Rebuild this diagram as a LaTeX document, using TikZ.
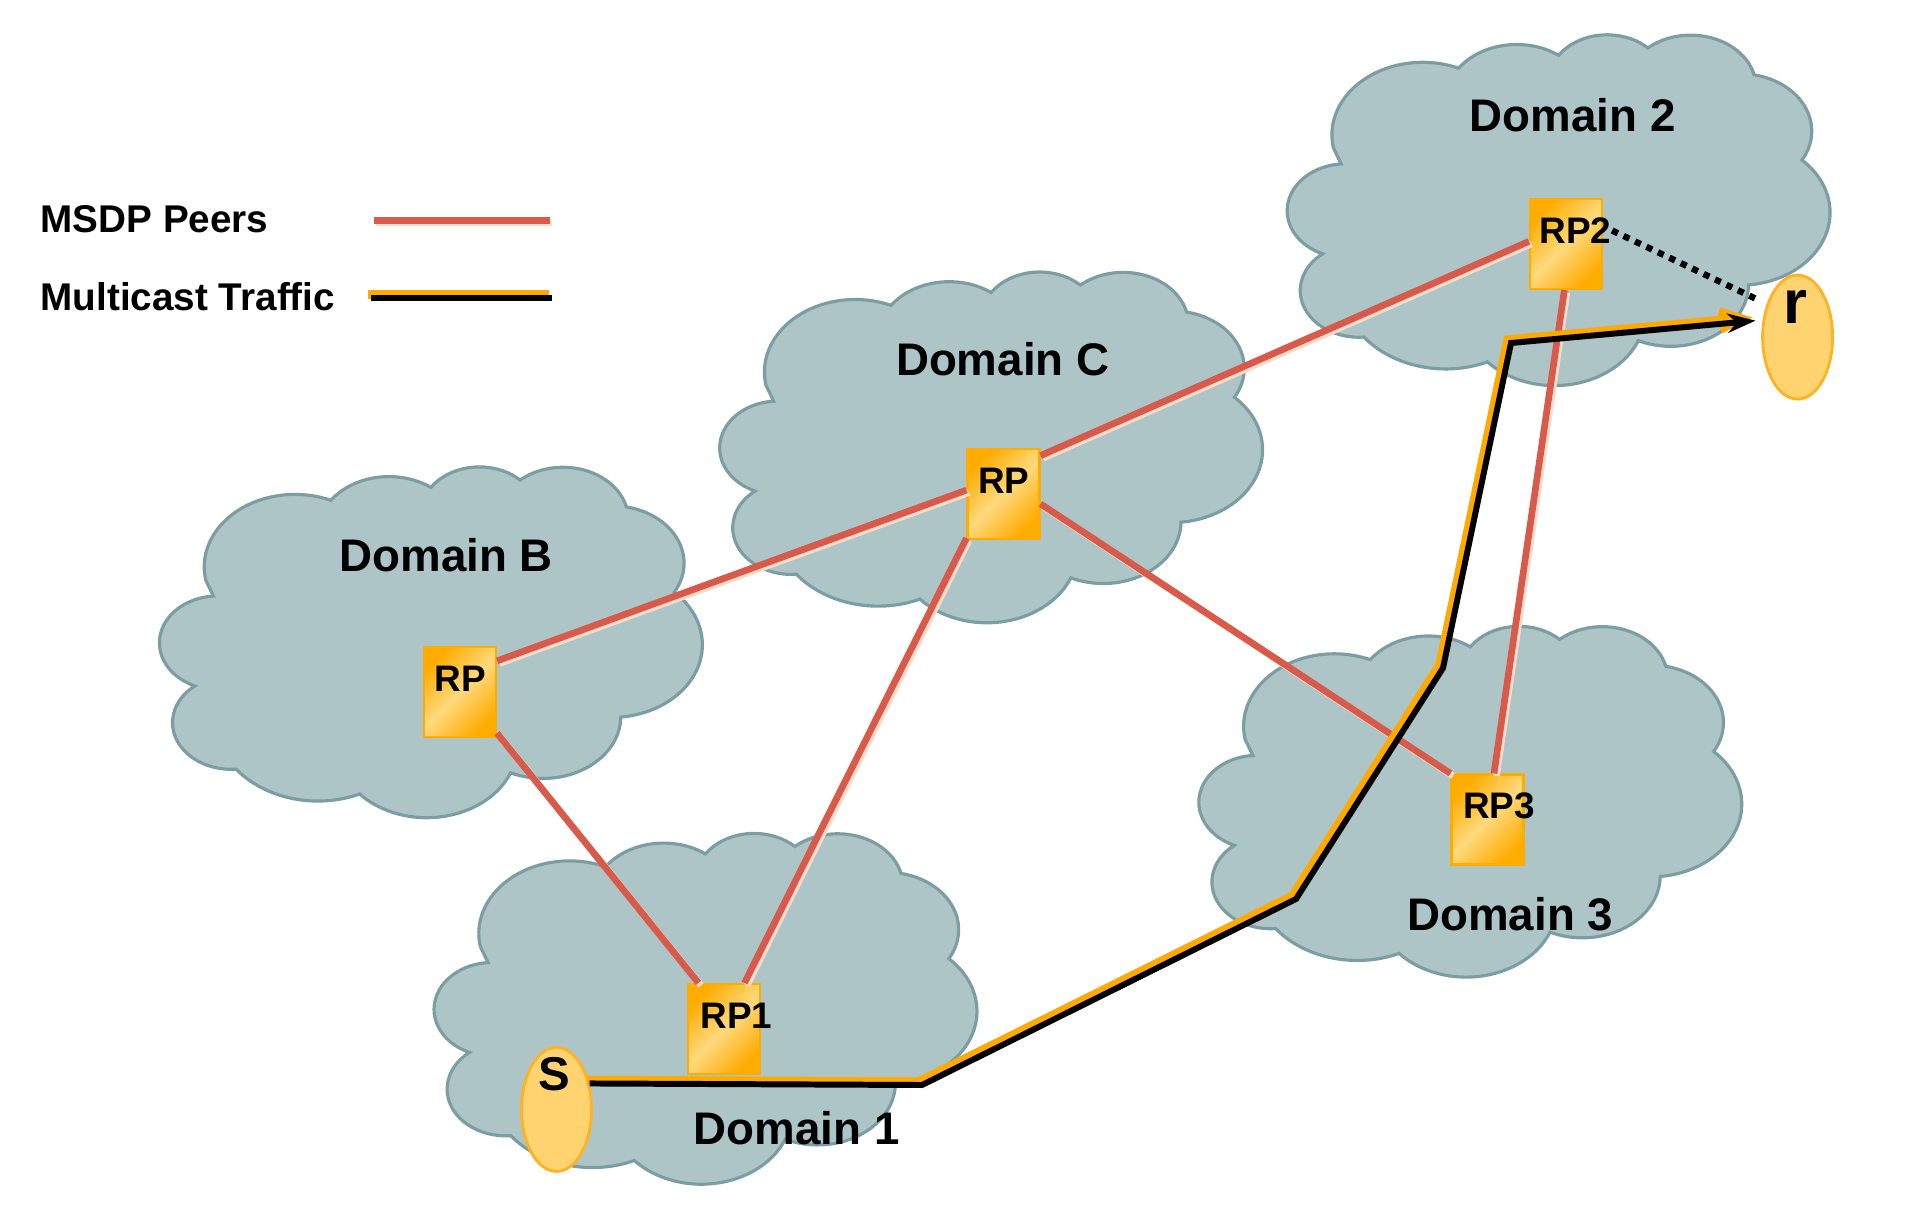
\documentclass[tikz,border=0pt]{standalone}
\usepackage{fontspec}
\setmainfont{Liberation Sans}
\usetikzlibrary{arrows.meta, shapes.geometric, positioning}
\definecolor{cloudfill}{HTML}{AEC5C7}
\definecolor{cloudedge}{HTML}{7C9DA2}
\definecolor{peerred}{HTML}{D75A4A}
\definecolor{peerglow}{HTML}{F7DCCB}
\definecolor{boxorange}{HTML}{FFAC00}
\definecolor{boxlight}{HTML}{FFD97C}
\definecolor{hostfill}{HTML}{FFD470}
\definecolor{hostedge}{HTML}{FFB224}
\definecolor{trafficorange}{HTML}{FFAA00}
\tikzset{
  cloud body/.style={
    fill=cloudfill, draw=cloudedge, line width=0.9pt
  },
  pics/domain cloud/.style={
    code={
      \draw[cloud body, x=0.013444cm, y=0.007893cm] (-167.5,78.86)
        arc[start angle=190.4875, delta angle=-123.7805, x radius=67.53, y radius=91.90]
        arc[start angle=144.1024, delta angle=-89.9452, x radius=53.33, y radius=72.67]
        arc[start angle=145.8079, delta angle=-99.7230, x radius=43.65, y radius=59.45]
        arc[start angle=130.9861, delta angle=-117.2417, x radius=48.57, y radius=65.95]
        arc[start angle=78.7089, delta angle=-109.0269, x radius=53.33, y radius=72.73]
        arc[start angle=46.2673, delta angle=-130.2690, x radius=67.75, y radius=92.20]
        arc[start angle=-0.6250, delta angle=-114.0333, x radius=57.85, y radius=78.67]
        arc[start angle=-22.4516, delta angle=-115.1726, x radius=67.52, y radius=92.15]
        arc[start angle=-66.2426, delta angle=-75.7110, x radius=77.20, y radius=105.43]
        arc[start angle=274.9421, delta angle=-146.7356, x radius=43.60, y radius=59.18]
        arc[start angle=246.8285, delta angle=-152.5189, x radius=43.45, y radius=59.45]
        -- cycle;
    }
  },
  domain label/.style={
    inner sep=0pt, font=\fontsize{13}{15}\selectfont\bfseries
  },
  rp box/.style={
    rectangle, draw=boxorange, line width=0.6pt,
    minimum width=0.72cm, minimum height=0.90cm, inner sep=0pt,
    top color=boxorange, bottom color=boxorange, middle color=boxlight,
    shading angle=45
  },
  rp label/.style={
    inner sep=0pt, font=\fontsize{10.5}{12}\selectfont\bfseries
  },
  host/.style={
    ellipse, draw=hostedge, fill=hostfill, line width=0.8pt,
    minimum width=0.70cm, minimum height=1.24cm, inner sep=0pt
  },
  legend label/.style={
    inner sep=0pt, anchor=west, font=\fontsize{11}{13}\selectfont\bfseries
  },
  peer line/.style={
    draw=peerred, line width=1.9pt,
    preaction={draw=peerglow, line width=1.9pt,
      transform canvas={shift={(0.7pt,-0.7pt)}}}
  },
  traffic glow/.style={
    draw=trafficorange, line width=2.6pt,
    transform canvas={shift={(-0.9pt,0.9pt)}}
  },
  traffic line/.style={
    draw=black, line width=1.7pt
  },
  probe line/.style={
    draw=black, line width=1.8pt, dash pattern=on 1.8pt off 1.8pt
  },
}

\begin{document}
\begin{tikzpicture}
  \useasboundingbox (0,0) rectangle (19.22,12.08);

  % Domains
  \pic (cloud2) at (15.586, 9.978) {domain cloud};
  \pic (cloudc) at (9.911, 7.606) {domain cloud};
  \pic (cloudb) at (4.309, 5.657) {domain cloud};
  \pic (cloud1) at (7.055, 1.992) {domain cloud};
  \pic (cloud3) at (14.703, 4.063) {domain cloud};

  \node[domain label] (d2) at (15.727, 10.928) {Domain 2};
  \node[domain label] (dc) at (10.027, 8.488) {Domain C};
  \node[domain label] (db) at (4.462, 6.527) {Domain B};
  \node[domain label] (d1) at (7.968, 0.803) {Domain 1};
  \node[domain label] (d3) at (15.102, 2.935) {Domain 3};

  % Rendezvous points
  \node[rp box] (rp2) at (15.66, 9.64) {};
  \node[rp box] (rpc) at (10.035, 7.14) {};
  \node[rp box] (rpb) at (4.60, 5.16) {};
  \node[rp box] (rp1) at (7.24, 1.79) {};
  \node[rp box] (rp3) at (14.875, 3.885) {};

  \node[rp label, below right=0.19cm and 0.10cm of rp2.north west] (rp2txt) {RP2};
  \node[rp label, below right=0.19cm and 0.11cm of rpc.north west] (rpctxt) {RP};
  \node[rp label, below right=0.19cm and 0.11cm of rpb.north west] (rpbtxt) {RP};
  \node[rp label, below right=0.19cm and 0.13cm of rp1.north west] (rp1txt) {RP1};
  \node[rp label, below right=0.19cm and 0.12cm of rp3.north west] (rp3txt) {RP3};

  % Source and receiver
  \node[host] (src) at (5.565, 0.986) {};
  \node[host] (rcv) at (17.976, 8.709) {};
  \node[inner sep=0pt, font=\fontsize{13.5}{15}\selectfont\bfseries] (srctxt) at (5.54, 1.34) {S};
  \node[inner sep=0pt, font=\fontsize{17.5}{19}\selectfont\bfseries] (rcvtxt) at (17.958, 9.015) {r};

  % MSDP peerings
  \draw[peer line] (rpb.40) -- (rpc.174);
  \draw[peer line] (rpc.46) -- (rp2.176);
  \draw[peer line] (rpc.230) -- (rp1.66);
  \draw[peer line] (rpc.-15) -- (rp3.north west);
  \draw[peer line] (rpb.-48) -- (rp1.119);
  \draw[peer line] (rp2.-92) -- (rp3.82);

  % Multicast traffic S -> r
  \coordinate (k1) at (9.22, 1.23);
  \coordinate (k2) at (12.96, 3.09);
  \coordinate (k3) at (14.43, 5.40);
  \coordinate (k4) at (15.11, 8.65);
  \draw[traffic glow, -{Straight Barb[length=6pt, width=5pt]}, shorten >=2pt]
    (src.38) -- (k1) -- (k2) -- (k3) -- (k4) -- (rcv.154);
  \draw[traffic line, -{Stealth[length=8pt, width=5.5pt]}, shorten >=2pt]
    (src.38) -- (k1) -- (k2) -- (k3) -- (k4) -- (rcv.154);

  % Join RP2 -> r
  \draw[probe line, shorten >=3pt] (rp2txt.east) -- (rcv.133);

  % Legend
  \node[legend label] (peerkey) at (0.40, 9.886) {MSDP Peers};
  \node[legend label] (trafkey) at (0.40, 9.114) {Multicast Traffic};
  \coordinate (peerA) at (3.74, 9.874);
  \coordinate (peerB) at (5.50, 9.874);
  \coordinate (trafA) at (3.71, 9.10);
  \coordinate (trafB) at (5.52, 9.10);
  \draw[peer line] (peerA) -- (peerB);
  \draw[traffic glow] (trafA) -- (trafB);
  \draw[traffic line] (trafA) -- (trafB);

\end{tikzpicture}
\end{document}
